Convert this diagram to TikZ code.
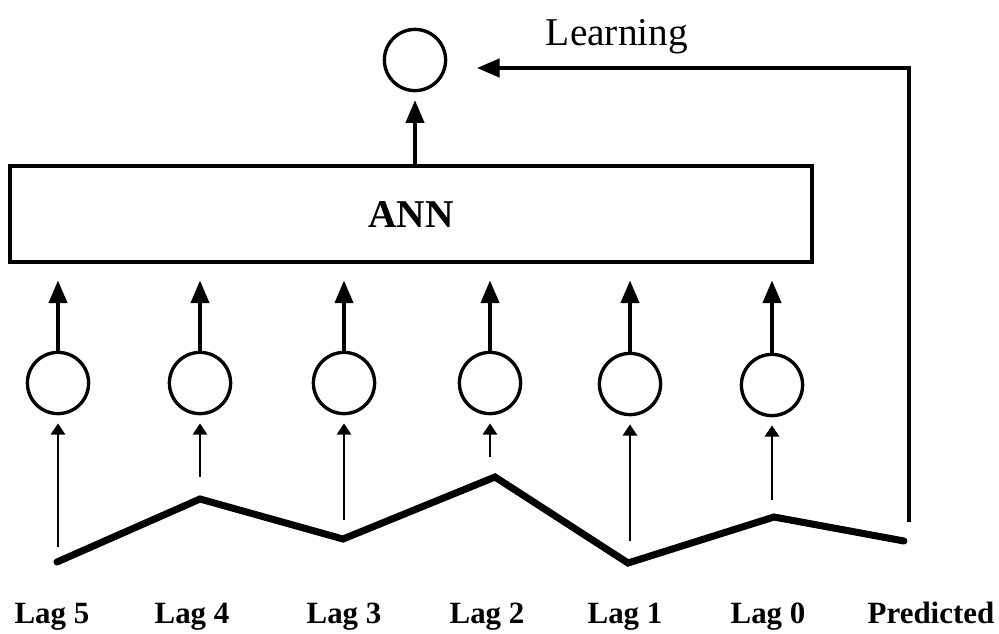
\documentclass[tikz,border=0pt]{standalone}
\usepackage{fontspec}
\setmainfont{Liberation Serif}
\usetikzlibrary{arrows.meta}

\begin{document}
\begin{tikzpicture}[
    x=0.025cm, y=-0.025cm,
    unit/.style={circle, draw, line width=2.4pt, minimum size=1.53cm, inner sep=0pt},
    upper/.style={-{Triangle[length=16pt, width=13pt]}, line width=2.2pt},
    lower/.style={-{Triangle[length=8pt, width=10pt]}, line width=1.8pt},
    lag/.style={anchor=base, font=\bfseries\fontsize{22}{24}\selectfont},
    series/.style={line width=5pt, line cap=round}
]
    \useasboundingbox (0,0) rectangle (999,633);

    % ==========================================
    % OUTPUT UNIT AND NETWORK
    % ==========================================
    \node[unit] (out) at (415,60) {};
    \node[draw, line width=2.4pt, minimum width=20.05cm, minimum height=2.4cm,
          font=\bfseries\fontsize{28}{30}\selectfont] (ann) at (411,214) {ANN};
    \node[anchor=base, font=\fontsize{28}{30}\selectfont] (learn) at (617,45) {Learning};

    % Network -> output
    \draw[upper, shorten >=0.2cm] (ann.north -| out) -- (out);

    % ==========================================
    % INPUT UNITS (Lag 5 ... Lag 0)
    % ==========================================
    \node[unit] (in5) at (58,383)  {};
    \node[unit] (in4) at (200,383) {};
    \node[unit] (in3) at (344,383) {};
    \node[unit] (in2) at (490,383) {};
    \node[unit] (in1) at (630,384) {};
    \node[unit] (in0) at (772,385) {};

    % Inputs -> network
    \draw[upper, shorten >=0.42cm] (in5) -- (in5 |- ann.south);
    \draw[upper, shorten >=0.42cm] (in4) -- (in4 |- ann.south);
    \draw[upper, shorten >=0.42cm] (in3) -- (in3 |- ann.south);
    \draw[upper, shorten >=0.42cm] (in2) -- (in2 |- ann.south);
    \draw[upper, shorten >=0.42cm] (in1) -- (in1 |- ann.south);
    \draw[upper, shorten >=0.42cm] (in0) -- (in0 |- ann.south);

    % ==========================================
    % TIME SERIES
    % ==========================================
    \coordinate (p5) at (57,562);
    \coordinate (p4) at (200,499);
    \coordinate (p3) at (343,539);
    \coordinate (p2) at (495,477);
    \coordinate (p1) at (628,563);
    \coordinate (p0) at (774,517);
    \coordinate (pp) at (904,541);
    \draw[series] (p5) -- (p4) -- (p3) -- (p2) -- (p1) -- (p0) -- (pp);

    % Series values -> input units
    \coordinate (b5) at (58,547);
    \coordinate (b4) at (200,477);
    \coordinate (b3) at (344,520);
    \coordinate (b2) at (490,457);
    \coordinate (b1) at (630,541);
    \coordinate (b0) at (772,500);
    \draw[lower, shorten >=0.2cm] (b5) -- (in5);
    \draw[lower, shorten >=0.2cm] (b4) -- (in4);
    \draw[lower, shorten >=0.2cm] (b3) -- (in3);
    \draw[lower, shorten >=0.2cm] (b2) -- (in2);
    \draw[lower, shorten >=0.2cm] (b1) -- (in1);
    \draw[lower, shorten >=0.2cm] (b0) -- (in0);

    % Predicted value fed back for learning
    \coordinate (bp) at (909,522);
    \coordinate (lt) at (477,68);
    \draw[upper, line width=2.4pt] (bp) |- (lt);

    % Labels
    \node[lag] (l5) at (52,623)  {Lag 5};
    \node[lag] (l4) at (192,623) {Lag 4};
    \node[lag] (l3) at (344,623) {Lag 3};
    \node[lag] (l2) at (487,623) {Lag 2};
    \node[lag] (l1) at (625,623) {Lag 1};
    \node[lag] (l0) at (768,623) {Lag 0};
    \node[lag] (lp) at (931,623) {Predicted};

\end{tikzpicture}
\end{document}
